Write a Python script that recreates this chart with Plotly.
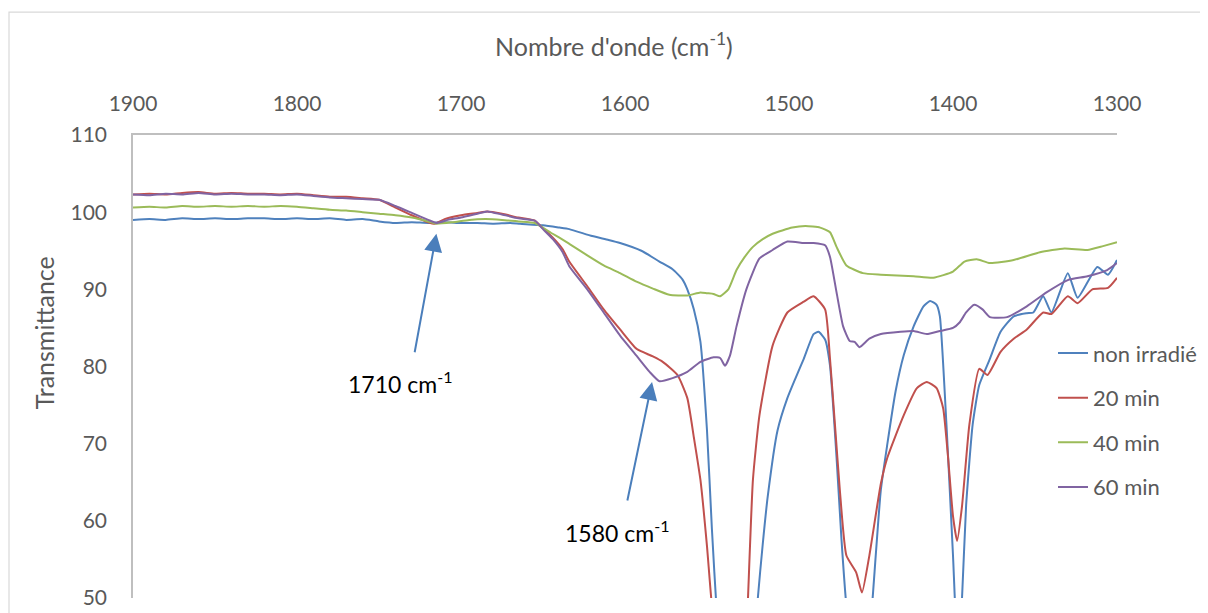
import plotly.graph_objects as go

# ---------------- data ----------------
series_names = ["non irradié", "20 min", "40 min", "60 min"]
series_colors = ["#4F81BD", "#C0504D", "#9BBB59", "#8064A2"]

wn_blue = [1900, 1890, 1880, 1870, 1860, 1850, 1840, 1830, 1820, 1810, 1800, 1790, 1780, 1770, 1760, 1750,
           1740, 1730, 1720, 1710, 1700, 1690, 1680, 1670, 1664, 1650, 1640, 1634, 1620, 1610, 1603, 1590,
           1579, 1571, 1565, 1562, 1558, 1554, 1550, 1547, 1544, 1538, 1530, 1522, 1519, 1516, 1513, 1507,
           1501, 1496, 1491, 1485, 1482, 1478, 1475, 1471, 1468, 1465, 1458, 1452, 1449, 1444, 1440, 1435,
           1430, 1424, 1418, 1414, 1410, 1408, 1404, 1400, 1397, 1394.5, 1392, 1388, 1384, 1377.5, 1371,
           1363, 1355, 1351, 1345, 1340, 1330, 1324, 1312, 1305.5, 1300]
t_blue = [99.0, 99.1, 99.0, 99.2, 99.1, 99.2, 99.1, 99.2, 99.2, 99.1, 99.2, 99.1, 99.2, 99.0, 99.1, 98.8,
          98.6, 98.7, 98.6, 98.7, 98.6, 98.6, 98.5, 98.6, 98.5, 98.3, 98.0, 97.8, 96.9, 96.4, 96.0, 95.0,
          93.6, 92.6, 91.3, 90.0, 87.4, 83.2, 71.7, 58.9, 48.0, 32.0, 30.0, 40.0, 50.0, 57.0, 63.1, 71.7,
          75.9, 78.5, 81.0, 84.2, 84.5, 83.5, 80.1, 68.2, 57.6, 49.0, 38.0, 42.0, 50.0, 64.0, 70.0, 76.8,
          81.5, 85.2, 87.8, 88.5, 88.0, 86.5, 72.5, 55.5, 42.0, 50.0, 62.0, 72.5, 77.6, 81.0, 84.5,
          86.5, 86.9, 87.0, 89.1, 87.0, 92.1, 88.9, 92.9, 91.9, 93.8]

wn_red = [1900, 1890, 1880, 1870, 1860, 1850, 1840, 1830, 1820, 1810, 1800, 1790, 1780, 1770, 1760, 1750,
          1740, 1730, 1720, 1716, 1710, 1700, 1690, 1684, 1675, 1665, 1655, 1650, 1644, 1638, 1634, 1623,
          1613, 1603, 1593, 1583, 1577, 1568, 1562, 1558, 1554, 1550, 1547, 1540, 1532, 1526, 1525, 1522,
          1518, 1510, 1501, 1491, 1485, 1478, 1475, 1472, 1469, 1465, 1459, 1455.5, 1451, 1444, 1440, 1430,
          1422, 1416, 1410, 1406, 1403, 1400, 1397.5, 1394.5, 1390, 1384, 1379, 1371, 1363, 1355, 1345,
          1340, 1330, 1324, 1315, 1305.5, 1300]
t_red = [102.3, 102.4, 102.3, 102.5, 102.6, 102.4, 102.5, 102.4, 102.4, 102.3, 102.4, 102.2, 102.0, 102.0,
         101.8, 101.6, 100.6, 99.6, 98.7, 98.5, 99.1, 99.6, 99.9, 100.1, 99.8, 99.3, 98.9, 97.9, 96.7, 95.2,
         93.6, 90.4, 87.4, 84.8, 82.3, 81.3, 80.6, 78.9, 75.9, 70.8, 65.3, 56.7, 49.0, 38.0, 36.0, 45.0,
         50.0, 65.3, 73.7, 82.7, 87.0, 88.4, 89.1, 87.4, 81.0, 72.5, 64.0, 55.5, 53.3, 50.7, 55.5, 64.8,
         68.2, 73.7, 77.2, 78.0, 77.2, 74.6, 68.2, 60.6, 57.4, 61.9, 72.5, 79.7, 78.9, 81.9, 83.6, 84.8,
         87.0, 86.8, 89.1, 88.2, 90.0, 90.2, 91.5]

wn_green = [1900, 1890, 1880, 1870, 1860, 1850, 1840, 1830, 1820, 1810, 1800, 1790, 1780, 1770, 1760, 1750,
            1740, 1730, 1720, 1715, 1705, 1695, 1685, 1675, 1665, 1655, 1645, 1640, 1634, 1623, 1613, 1603,
            1593, 1583, 1573, 1562, 1554, 1550, 1546, 1542, 1537, 1532, 1527, 1522, 1516, 1510, 1498, 1490,
            1481, 1475, 1471, 1465, 1455, 1444, 1424, 1412, 1400, 1393, 1385.5, 1377.5, 1363, 1347, 1332,
            1318, 1308.5, 1300]
t_green = [100.6, 100.7, 100.6, 100.8, 100.7, 100.8, 100.7, 100.8, 100.7, 100.8, 100.7, 100.5, 100.3, 100.2,
           100.0, 99.8, 99.6, 99.3, 98.8, 98.5, 98.7, 99.0, 99.1, 99.0, 98.8, 98.6, 97.3, 96.7, 95.9, 94.4,
           93.1, 92.1, 91.0, 90.1, 89.3, 89.2, 89.6, 89.5, 89.4, 89.1, 90.0, 92.5, 94.2, 95.5, 96.5, 97.2,
           98.0, 98.2, 98.0, 97.4, 95.5, 93.1, 92.1, 91.9, 91.7, 91.5, 92.3, 93.6, 93.9, 93.4, 93.8, 94.8,
           95.3, 95.1, 95.6, 96.1]

wn_purple = [1900, 1890, 1880, 1870, 1860, 1850, 1840, 1830, 1820, 1810, 1800, 1790, 1780, 1770, 1760, 1750,
             1740, 1730, 1720, 1715, 1708, 1700, 1690, 1684, 1675, 1665, 1655, 1650, 1644, 1638, 1634, 1623,
             1613, 1603, 1593, 1585, 1579, 1571, 1562, 1554, 1546, 1542, 1539, 1536, 1532, 1526, 1518, 1510,
             1501, 1491, 1485, 1478, 1475, 1471, 1467, 1463, 1460, 1457, 1451, 1444, 1432, 1424, 1416, 1408,
             1400, 1396, 1392, 1387, 1382, 1377.5, 1367, 1355, 1343, 1330, 1318, 1306, 1300]
t_purple = [102.3, 102.2, 102.4, 102.3, 102.5, 102.3, 102.4, 102.3, 102.3, 102.2, 102.3, 102.1, 101.9, 101.8,
            101.7, 101.6, 100.8, 99.9, 99.0, 98.6, 99.0, 99.3, 99.8, 100.1, 99.7, 99.2, 98.9, 97.8, 96.5, 94.8,
            93.0, 90.0, 87.0, 84.0, 81.4, 79.3, 78.1, 78.5, 79.3, 80.6, 81.2, 81.1, 80.1, 81.4, 85.2, 90.0,
            94.0, 95.1, 96.2, 96.0, 96.0, 95.7, 94.2, 89.6, 85.2, 83.3, 83.2, 82.5, 83.6, 84.2, 84.5, 84.6,
            84.2, 84.6, 85.0, 85.7, 87.0, 88.0, 87.4, 86.4, 86.4, 87.8, 89.6, 91.2, 91.7, 92.5, 93.4]

x_ticks = [1900, 1800, 1700, 1600, 1500, 1400, 1300]
y_ticks = [50, 60, 70, 80, 90, 100, 110]

annot_labels = ["1710 cm<sup>-1</sup>", "1580 cm<sup>-1</sup>"]

# ---------------- figure ----------------
FONT = "Lato"
GRAY = "#595959"
W, H = 1208, 613
OFF = 8                      # page offset of the figure div
L, R, T, B = 133, 1117, 135, 602   # plot area in screen pixels

fig = go.Figure()
all_x = [wn_blue, wn_red, wn_green, wn_purple]
all_y = [t_blue, t_red, t_green, t_purple]
for name, col, xs, ys in zip(series_names, series_colors, all_x, all_y):
    fig.add_trace(go.Scatter(x=xs, y=ys, mode="lines", name=name, legendgroup=name,
                             line=dict(color=col, width=2, shape="spline", smoothing=0.5)))

def px_x(px):
    return (px - L) / (R - L)

def px_y(py):
    return (B - py) / (B - T)

fig.update_layout(
    width=W, height=H,
    margin=dict(l=L - OFF, r=W - (R - OFF), t=T - OFF, b=H - (B - OFF)),
    paper_bgcolor="white", plot_bgcolor="white",
    font=dict(family=FONT, color=GRAY, size=21),
    showlegend=True,
    legend=dict(x=px_x(1053), y=px_y(334), xanchor="left", yanchor="top",
                font=dict(family=FONT, size=22, color=GRAY),
                tracegroupgap=13, bgcolor="rgba(0,0,0,0)"),
    xaxis=dict(range=[1900, 1300], side="top", tickvals=x_ticks, ticktext=[str(v) for v in x_ticks],
               showgrid=False, zeroline=False, showline=True, linecolor="#BFBFBF", linewidth=1.5,
               ticks="", ticklabelstandoff=14, tickfont=dict(family=FONT, size=21, color=GRAY)),
    yaxis=dict(range=[50, 110], tickvals=y_ticks, ticktext=[str(v) for v in y_ticks],
               showgrid=False, zeroline=False, showline=True, linecolor="#BFBFBF", linewidth=1.5,
               ticks="", ticklabelstandoff=20, tickfont=dict(family=FONT, size=21, color=GRAY)),
)

# chart border (Excel chart area)
fig.add_shape(type="rect", xref="paper", yref="paper",
              x0=px_x(9), x1=px_x(1240), y0=px_y(640), y1=px_y(11),
              line=dict(color="#D9D9D9", width=1.2), fillcolor="rgba(0,0,0,0)", layer="below")

# axis titles
fig.add_annotation(xref="paper", yref="paper", x=px_x(614), y=px_y(44),
                   text="Nombre d'onde (cm<sup>-1</sup>)", showarrow=False,
                   font=dict(family=FONT, size=25, color=GRAY), xanchor="center", yanchor="middle")
fig.add_annotation(xref="paper", yref="paper", x=px_x(44), y=px_y(335),
                   text="Transmittance", textangle=-90, showarrow=False,
                   font=dict(family=FONT, size=25, color=GRAY), xanchor="center", yanchor="middle")

# arrows
ARROW = "#4A7EBB"
fig.add_annotation(x=1715, y=97.2, xref="x", yref="y", ax=-22, ay=120,
                   text="", showarrow=True, arrowhead=2, arrowsize=1.8, arrowwidth=2, arrowcolor=ARROW)
fig.add_annotation(x=1583.5, y=78.0, xref="x", yref="y", ax=-25, ay=120,
                   text="", showarrow=True, arrowhead=2, arrowsize=1.8, arrowwidth=2, arrowcolor=ARROW)

# annotation labels
fig.add_annotation(x=1737, y=77.9, xref="x", yref="y", text=annot_labels[0], showarrow=False,
                   font=dict(family=FONT, size=23, color="black"))
fig.add_annotation(x=1605, y=58.6, xref="x", yref="y", text=annot_labels[1], showarrow=False,
                   font=dict(family=FONT, size=23, color="black"))

fig.write_html("out.html")
